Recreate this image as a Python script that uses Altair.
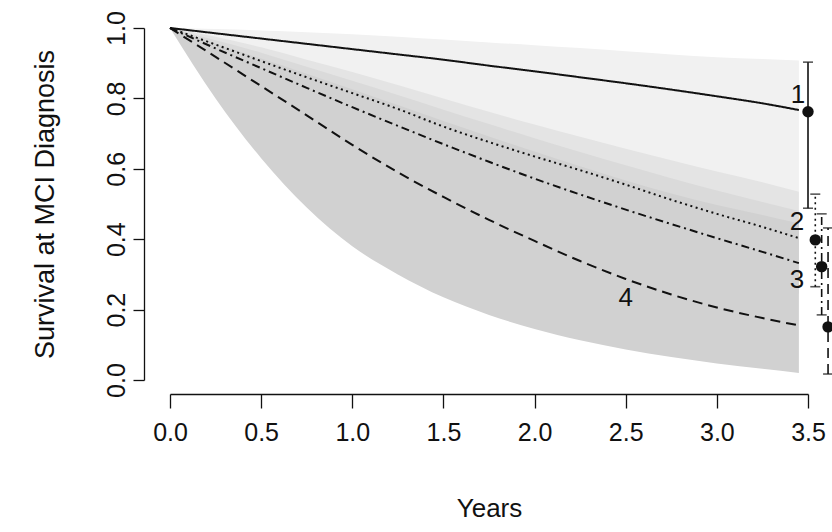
import altair as alt
import pandas as pd

# ---- data ----
years = [0, 0.25, 0.5, 0.75, 1.0, 1.25, 1.5, 1.75, 2.0, 2.25, 2.5, 2.75, 3.0, 3.25, 3.45]

surv1 = [1.0, 0.985, 0.970, 0.955, 0.940, 0.925, 0.910, 0.893, 0.877, 0.860, 0.843, 0.825, 0.806, 0.786, 0.767]
surv2 = [1.0, 0.953, 0.906, 0.860, 0.815, 0.770, 0.720, 0.676, 0.635, 0.596, 0.555, 0.512, 0.472, 0.435, 0.403]
surv3 = [1.0, 0.942, 0.886, 0.830, 0.775, 0.722, 0.670, 0.620, 0.572, 0.527, 0.484, 0.443, 0.403, 0.364, 0.332]
surv4 = [1.0, 0.918, 0.835, 0.752, 0.668, 0.590, 0.520, 0.455, 0.395, 0.338, 0.287, 0.243, 0.206, 0.176, 0.155]

band1_hi = [1.0, 0.997, 0.993, 0.988, 0.982, 0.975, 0.967, 0.959, 0.951, 0.943, 0.934, 0.925, 0.917, 0.912, 0.908]
band1_lo = [1.0, 0.960, 0.920, 0.880, 0.840, 0.800, 0.760, 0.720, 0.685, 0.650, 0.615, 0.580, 0.550, 0.520, 0.500]
band2_hi = [1.0, 0.975, 0.945, 0.910, 0.875, 0.838, 0.800, 0.762, 0.726, 0.691, 0.657, 0.624, 0.592, 0.562, 0.535]
band2_lo = [1.0, 0.930, 0.860, 0.800, 0.740, 0.690, 0.640, 0.590, 0.545, 0.500, 0.460, 0.420, 0.385, 0.350, 0.325]
band3_hi = [1.0, 0.965, 0.930, 0.890, 0.850, 0.810, 0.768, 0.727, 0.687, 0.648, 0.610, 0.573, 0.538, 0.506, 0.480]
band3_lo = [1.0, 0.910, 0.830, 0.760, 0.690, 0.630, 0.570, 0.520, 0.470, 0.420, 0.380, 0.340, 0.300, 0.270, 0.245]
band4_hi = [1.0, 0.955, 0.913, 0.870, 0.826, 0.781, 0.736, 0.692, 0.649, 0.607, 0.567, 0.530, 0.497, 0.469, 0.445]
band4_lo = [1.0, 0.800, 0.630, 0.490, 0.380, 0.300, 0.235, 0.185, 0.145, 0.113, 0.087, 0.065, 0.047, 0.032, 0.020]

# error bars at the right
eb_group = ["1", "2", "3", "4"]
eb_x = [3.50, 3.54, 3.575, 3.61]
eb_mid = [0.762, 0.398, 0.322, 0.151]
eb_lo = [0.488, 0.265, 0.185, 0.017]
eb_hi = [0.903, 0.528, 0.472, 0.432]

# curve labels
lab_text = ["1", "2", "3", "4"]
lab_x = [3.445, 3.44, 3.44, 2.50]
lab_y = [0.810, 0.450, 0.284, 0.233]

# ---- styles ----
band_colors = ["#f1f1f1", "#e4e4e4", "#dadada", "#d1d1d1"]
dashes = [[1, 0], [2, 3.5], [8, 4, 2, 4], [10, 6]]
INK = "#111111"

xs = alt.Scale(domain=[0, 3.5], nice=False, zero=False)
ys = alt.Scale(domain=[0, 1], nice=False, zero=False)

x_axis = alt.Axis(values=[0, 0.5, 1.0, 1.5, 2.0, 2.5, 3.0, 3.5], format=".1f", title="Years",
                  grid=False, offset=14, tickSize=14, tickColor=INK, domainColor=INK,
                  tickWidth=1.3, domainWidth=1.3, labelFlush=False, labelOverlap=False,
                  labelFont="Liberation Sans Narrow, Arial Narrow, Liberation Sans, Arial",
                  labelFontSize=25, labelColor=INK, labelPadding=12,
                  titleFont="Liberation Sans Narrow, Arial Narrow, Liberation Sans, Arial",
                  titleFontSize=26, titleFontWeight="normal", titleColor=INK, titlePadding=50)
y_axis = alt.Axis(values=[0, 0.2, 0.4, 0.6, 0.8, 1.0], format=".1f", title="Survival at MCI Diagnosis",
                  grid=False, offset=26, tickSize=11, tickColor=INK, domainColor=INK,
                  tickWidth=1.3, domainWidth=1.3, labelFlush=False, labelOverlap=False,
                  labelAngle=-90, labelAlign="center", labelBaseline="bottom",
                  labelFont="Liberation Sans, Arial", labelFontSize=25, labelColor=INK, labelPadding=4,
                  titleFont="Liberation Sans, Arial", titleFontSize=27, titleFontWeight="normal",
                  titleColor=INK, titlePadding=45)

layers = []

bands = [(band1_lo, band1_hi), (band2_lo, band2_hi), (band3_lo, band3_hi), (band4_lo, band4_hi)]
for i, (lo, hi) in enumerate(bands):
    df = pd.DataFrame({"t": years, "lo": lo, "hi": hi})
    enc = dict(x=alt.X("t:Q", scale=xs, axis=x_axis), y=alt.Y("lo:Q", scale=ys, axis=y_axis), y2="hi:Q")
    layers.append(alt.Chart(df).mark_area(color=band_colors[i], opacity=1, interpolate="monotone").encode(**enc))

curves = [surv1, surv2, surv3, surv4]
for i, s in enumerate(curves):
    df = pd.DataFrame({"t": years, "s": s})
    layers.append(alt.Chart(df).mark_line(color=INK, strokeWidth=2, strokeDash=dashes[i],
                                          interpolate="monotone")
                  .encode(x=alt.X("t:Q", scale=xs), y=alt.Y("s:Q", scale=ys)))

for i in range(4):
    df = pd.DataFrame({"x": [eb_x[i]], "lo": [eb_lo[i]], "hi": [eb_hi[i]], "mid": [eb_mid[i]]})
    base = alt.Chart(df)
    layers.append(base.mark_rule(color=INK, strokeWidth=1.6, strokeDash=dashes[i])
                  .encode(x=alt.X("x:Q", scale=xs), y=alt.Y("lo:Q", scale=ys), y2="hi:Q"))
    layers.append(base.mark_tick(color=INK, orient="horizontal", size=10, thickness=1.6, strokeDash=dashes[i])
                  .encode(x=alt.X("x:Q", scale=xs), y=alt.Y("lo:Q", scale=ys)))
    layers.append(base.mark_tick(color=INK, orient="horizontal", size=10, thickness=1.6, strokeDash=dashes[i])
                  .encode(x=alt.X("x:Q", scale=xs), y=alt.Y("hi:Q", scale=ys)))
    layers.append(base.mark_point(filled=True, color=INK, size=130, opacity=1, shape="circle")
                  .encode(x=alt.X("x:Q", scale=xs), y=alt.Y("mid:Q", scale=ys)))

lab_df = pd.DataFrame({"t": lab_x, "v": lab_y, "txt": lab_text})
layers.append(alt.Chart(lab_df).mark_text(font="Liberation Sans, Arial", fontSize=26, color=INK,
                                          align="center", baseline="middle")
              .encode(x=alt.X("t:Q", scale=xs), y=alt.Y("v:Q", scale=ys), text="txt:N"))

chart = alt.layer(*layers).properties(
    width=638, height=352,
    padding={"left": 170, "top": 28, "right": 24, "bottom": 152},
    autosize=alt.AutoSizeParams(type="none"),
    background="white",
).configure_view(stroke=None)

chart.save("out.html", embed_options={"renderer": "svg", "actions": False})
